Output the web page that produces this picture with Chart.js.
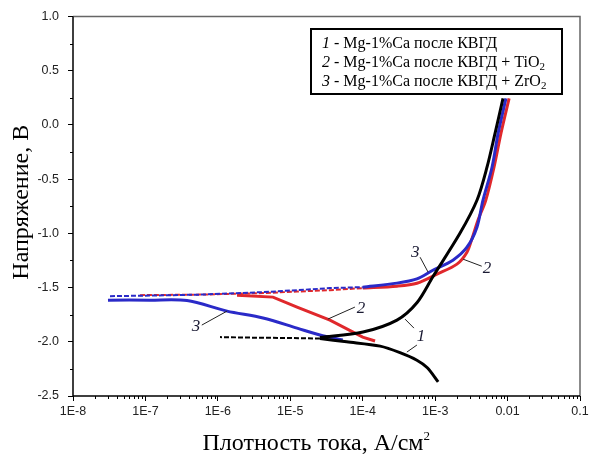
<!DOCTYPE html>
<html lang="ru">
<head>
  <meta charset="UTF-8" />
  <title>Поляризационные кривые Mg-1%Ca</title>
  <script src="https://cdn.jsdelivr.net/npm/chart.js"></script>
  <style>
    html, body { margin: 0; padding: 0; background: #fff; }
    #wrap { width: 592px; height: 457px; }
  </style>
</head>
<body>
  <div id="wrap"><canvas id="chart" width="592" height="457"></canvas></div>

  <script>
    // --- данные (ток, А/см2 / потенциал, В) ---
    // кривая 1: Mg-1%Ca после КВГД
    const blackCathI = [2.57e-5, 6.0e-5, 1.74e-4, 3.27e-4, 5.6e-4, 7.8e-4, 1.10e-3];
    const blackCathV = [-1.97, -2.00, -2.04, -2.10, -2.17, -2.24, -2.37];
    const blackNoiseI = [2.57e-5, 1.0e-5, 3.2e-6, 1.07e-6];
    const blackNoiseV = [-1.97, -1.965, -1.962, -1.957];
    const blackAnodI = [2.57e-5, 1.01e-4, 2.97e-4, 5.6e-4, 9.3e-4, 2.2e-3, 3.78e-3, 5.2e-3, 6.7e-3, 8.65e-3];
    const blackAnodV = [-1.96, -1.91, -1.80, -1.64, -1.40, -1.00, -0.695, -0.39, -0.08, 0.245];

    // кривая 2: + TiO2
    const redCathI = [1.84e-6, 5.77e-6, 1.24e-5, 3.53e-5, 1.0e-4, 1.48e-4];
    const redCathV = [-1.57, -1.588, -1.68, -1.80, -1.957, -1.993];
    const redNoiseI = [8.4e-8, 5.66e-7, 4.2e-6, 1.24e-5, 3.53e-5, 1.0e-4];
    const redNoiseV = [-1.57, -1.565, -1.551, -1.537, -1.524, -1.505];
    const redAnodI = [1.0e-4, 2.97e-4, 5.6e-4, 1.06e-3, 2.0e-3, 2.75e-3, 3.24e-3, 3.9e-3, 5.0e-3, 6.5e-3, 8.1e-3, 1.05e-2];
    const redAnodV = [-1.505, -1.487, -1.46, -1.376, -1.284, -1.174, -1.045, -0.879, -0.695, -0.39, -0.078, 0.245];

    // кривая 3: + ZrO2
    const blueCathI = [3.04e-8, 1.16e-7, 3.75e-7, 1.34e-6, 4.2e-6, 1.24e-5, 2.57e-5, 5.3e-5];
    const blueCathV = [-1.616, -1.616, -1.62, -1.717, -1.78, -1.874, -1.938, -1.984];
    const blueNoiseI = [3.24e-8, 1.16e-7, 5.66e-7, 4.2e-6, 1.24e-5, 3.53e-5, 1.0e-4];
    const blueNoiseV = [-1.579, -1.574, -1.565, -1.542, -1.524, -1.505, -1.496];
    const blueAnodI = [1.0e-4, 2.97e-4, 5.6e-4, 9.3e-4, 1.76e-3, 2.75e-3, 3.78e-3, 4.57e-3, 6.1e-3, 7.4e-3, 9.5e-3];
    const blueAnodV = [-1.496, -1.459, -1.42, -1.34, -1.247, -1.128, -0.943, -0.695, -0.39, -0.078, 0.245];

    // оси
    const xTickValues = [1e-8, 1e-7, 1e-6, 1e-5, 1e-4, 1e-3, 1e-2, 1e-1];
    const xTickLabels = ['1E-8', '1E-7', '1E-6', '1E-5', '1E-4', '1E-3', '0.01', '0.1'];
    const yTickLabels = ['-2.5', '-2.0', '-1.5', '-1.0', '-0.5', '0.0', '0.5', '1.0'];
    const xTitle = 'Плотность тока, А/см';
    const yTitle = 'Напряжение, В';

    // легенда
    const legendNums = ['1', '2', '3'];
    const legendTexts = ['Mg-1%Ca после КВГД', 'Mg-1%Ca после КВГД + TiO_2', 'Mg-1%Ca после КВГД + ZrO_2'];

    // подписи кривых и выноски (в координатах данных)
    const noteText = ['3', '2', '2', '3', '1', ''];
    const noteI = [5.3e-4, 5.2e-3, 9.5e-5, 5.0e-7, 6.4e-4, 0];
    const noteV = [-1.174, -1.321, -1.689, -1.855, -1.947, 0];
    const leadI0 = [6.2e-4, 4.4e-3, 7.8e-5, 6.0e-7, 5.1e-4, 5.6e-4];
    const leadV0 = [-1.22, -1.303, -1.68, -1.846, -1.874, -2.03];
    const leadI1 = [8.0e-4, 2.43e-3, 3.3e-5, 1.34e-6, 3.84e-4, 4.07e-4];
    const leadV1 = [-1.358, -1.238, -1.791, -1.717, -1.791, -2.095];

    const BLACK = '#000000';
    const RED = '#e0282c';
    const BLUE = '#2a2ac8';

    const pts = (xs, ys) => xs.map((x, i) => ({ x, y: ys[i] }));

    function solid(data, color, order, tension = 0.3) {
      return { data, borderColor: color, backgroundColor: color, borderWidth: 3, pointRadius: 0,
               showLine: true, fill: false, tension, order };
    }
    function noisy(data, color, order) {
      return { data, borderColor: color, backgroundColor: color, borderWidth: 2, borderDash: [5, 2],
               pointRadius: 0, showLine: true, fill: false, tension: 0, order };
    }

    const extras = {
      id: 'extras',
      afterDraw(chart) {
        const { ctx, chartArea: a, scales: { x, y } } = chart;
        ctx.save();

        // малые деления
        ctx.strokeStyle = '#000';
        ctx.lineWidth = 1;
        ctx.beginPath();
        for (let d = -8; d < -1; d++) {
          for (let k = 2; k <= 9; k++) {
            const px = Math.round(x.getPixelForValue(k * Math.pow(10, d))) + 0.5;
            ctx.moveTo(px, a.bottom); ctx.lineTo(px, a.bottom + 3);
          }
        }
        for (let v = -2.25; v < 1; v += 0.5) {
          const py = Math.round(y.getPixelForValue(v)) + 0.5;
          ctx.moveTo(a.left - 3, py); ctx.lineTo(a.left, py);
        }
        ctx.stroke();

        // рамка
        ctx.lineWidth = 1.5;
        ctx.strokeStyle = '#666';
        ctx.beginPath();
        ctx.moveTo(a.left, a.top); ctx.lineTo(a.right, a.top); ctx.lineTo(a.right, a.bottom);
        ctx.stroke();
        ctx.strokeStyle = '#000';
        ctx.beginPath();
        ctx.moveTo(a.left, a.top); ctx.lineTo(a.left, a.bottom); ctx.lineTo(a.right, a.bottom);
        ctx.stroke();

        // заголовки осей
        ctx.fillStyle = '#000';
        ctx.font = '24px "Liberation Serif"';
        ctx.textBaseline = 'alphabetic';
        ctx.textAlign = 'left';
        const tw = ctx.measureText(xTitle).width;
        const tx0 = (a.left + a.right) / 2 - 10 - (tw + 7) / 2;
        ctx.fillText(xTitle, tx0, 450);
        ctx.font = '13px "Liberation Serif"';
        ctx.fillText('2', tx0 + tw, 440);
        ctx.save();
        ctx.translate(28, (a.top + a.bottom) / 2 - 4);
        ctx.rotate(-Math.PI / 2);
        ctx.font = '24px "Liberation Serif"';
        ctx.textAlign = 'center';
        ctx.fillText(yTitle, 0, 0);
        ctx.restore();

        // выноски и номера кривых
        ctx.lineWidth = 1;
        ctx.strokeStyle = '#222';
        ctx.beginPath();
        leadI0.forEach((v, i) => {
          ctx.moveTo(x.getPixelForValue(v), y.getPixelForValue(leadV0[i]));
          ctx.lineTo(x.getPixelForValue(leadI1[i]), y.getPixelForValue(leadV1[i]));
        });
        ctx.stroke();
        ctx.fillStyle = '#1a1a33';
        ctx.font = 'italic 17px "Liberation Serif"';
        ctx.textAlign = 'center';
        ctx.textBaseline = 'middle';
        noteText.forEach((t, i) => {
          if (t) ctx.fillText(t, x.getPixelForValue(noteI[i]), y.getPixelForValue(noteV[i]));
        });

        // легенда
        const bx = 311, by = 29, bw = 251, bh = 65;
        ctx.fillStyle = '#fff';
        ctx.fillRect(bx, by, bw, bh);
        ctx.lineWidth = 2;
        ctx.strokeStyle = '#000';
        ctx.strokeRect(bx, by, bw, bh);
        ctx.textAlign = 'left';
        ctx.textBaseline = 'alphabetic';
        ctx.fillStyle = '#000';
        legendNums.forEach((n, i) => {
          let tx = bx + 11;
          const ty = by + 19 + i * 19;
          ctx.font = 'italic 16px "Liberation Serif"';
          ctx.fillText(n, tx, ty);
          tx += ctx.measureText(n).width;
          const parts = (' - ' + legendTexts[i]).split('_');
          ctx.font = '16px "Liberation Serif"';
          ctx.fillText(parts[0], tx, ty);
          tx += ctx.measureText(parts[0]).width;
          if (parts[1]) {
            ctx.font = '11px "Liberation Serif"';
            ctx.fillText(parts[1], tx, ty + 3);
          }
        });

        ctx.restore();
      }
    };

    new Chart(document.getElementById('chart').getContext('2d'), {
      type: 'scatter',
      data: {
        datasets: [
          solid(pts(blackCathI, blackCathV), BLACK, 0),
          noisy(pts(blackNoiseI, blackNoiseV), BLACK, 0),
          solid(pts(blackAnodI, blackAnodV), BLACK, 0),
          solid(pts(blueCathI, blueCathV), BLUE, 1),
          noisy(pts(blueNoiseI, blueNoiseV), BLUE, 1),
          solid(pts(blueAnodI, blueAnodV), BLUE, 1),
          solid(pts(redCathI, redCathV), RED, 2, 0),
          noisy(pts(redNoiseI, redNoiseV), RED, 2),
          solid(pts(redAnodI, redAnodV), RED, 2)
        ]
      },
      options: {
        responsive: false,
        animation: false,
        layout: { padding: { top: 16, right: 12, left: 0, bottom: 0 } },
        plugins: { legend: { display: false }, tooltip: { enabled: false } },
        scales: {
          x: {
            type: 'logarithmic',
            position: 'bottom',
            min: 1e-8,
            max: 0.1,
            afterBuildTicks: s => { s.ticks = xTickValues.map(value => ({ value })); },
            afterFit: s => { s.height = 61; },
            ticks: {
              autoSkip: false,
              maxRotation: 0,
              padding: 3,
              color: '#222',
              font: { family: 'Liberation Sans', size: 12.5 },
              callback: (v, i) => xTickLabels[i]
            },
            grid: { drawOnChartArea: false, drawTicks: true, tickLength: 5, color: '#000' },
            border: { display: false }
          },
          y: {
            type: 'linear',
            min: -2.5,
            max: 1.0,
            afterFit: s => { s.width = 73; },
            ticks: {
              stepSize: 0.5,
              padding: 9,
              color: '#222',
              font: { family: 'Liberation Sans', size: 12.5 },
              callback: (v, i) => yTickLabels[i]
            },
            grid: { drawOnChartArea: false, drawTicks: true, tickLength: 5, color: '#000' },
            border: { display: false }
          }
        }
      },
      plugins: [extras]
    });
  </script>
</body>
</html>
